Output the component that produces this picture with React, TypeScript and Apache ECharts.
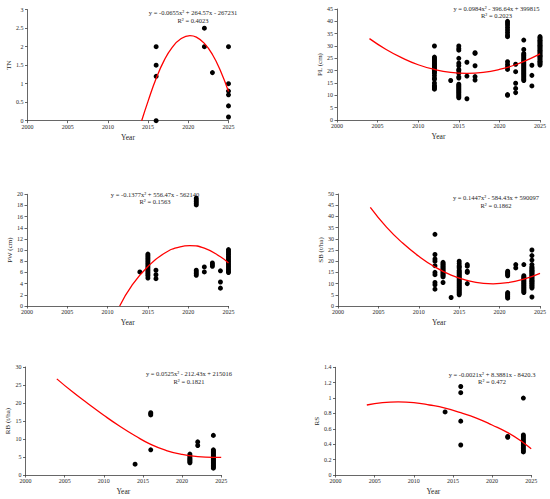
import React, { useEffect, useRef } from "react";
import * as echarts from "echarts";

// ---------- data ----------
// observations grouped by year: [year, values[]]
const tnObs: [number, number[]][] = [
  [2016, [2.0, 1.5, 1.2, 0.0]],
  [2022, [2.5, 2.0]],
  [2023, [1.3]],
  [2025, [2.0, 1.0, 0.8, 0.7, 0.4, 0.1]],
];
const tnTrendX = [2014.2, 2015, 2016, 2017, 2018, 2019, 2020.2, 2021, 2022, 2023, 2024, 2025];
const tnTrendY = [0, 0.53, 1.14, 1.63, 1.98, 2.2, 2.3, 2.26, 2.09, 1.79, 1.35, 0.79];

const plObs: [number, number[]][] = [
  [2012, [30, 25.5, 25, 24.5, 24, 23.5, 23, 22.5, 22, 21.5, 21, 20.5, 20, 19.5, 19, 18, 17, 16.5, 15, 14, 13.5, 13, 12.5]],
  [2014, [16]],
  [2015, [30, 29, 28.3, 25, 23, 22, 20.5, 20, 19, 17.5, 17, 14.5, 14, 13.5, 13, 12.5, 12, 11.5, 11, 10.5, 10, 9.5, 9]],
  [2016, [23.4, 17.8, 8.6]],
  [2017, [27.3, 27, 22, 17.6, 16.2]],
  [2021, [40, 39.3, 38.5, 37.5, 36.5, 35.5, 34.5, 33.8, 23.6, 22.5, 21.5, 20.5, 10.3, 10]],
  [2022, [22.6, 19.6, 14.9, 12.8, 11.1]],
  [2023, [32.4, 28.6, 27, 26.5, 26, 25.5, 25, 24.5, 24, 23.5, 23, 22.5, 22, 21.5, 21, 20.5, 20, 19.5, 19, 18.5, 18, 17.5, 17, 16.5, 16]],
  [2024, [22.2, 18.1, 13.8]],
  [2025, [33.8, 33.3, 32.8, 32.3, 31.8, 31.3, 30.8, 30.3, 29.8, 29.3, 28.8, 28.3, 27.8, 27.3, 26.8, 26.3, 25.8, 25.3, 24.8, 24.3, 23.8, 23.3, 22.8, 22.3]],
];
const plTrendX = [2004, 2006, 2008, 2010, 2012, 2014, 2016, 2018, 2020, 2022, 2024, 2025];
const plTrendY = [33, 28.7, 25.2, 22.4, 20.5, 19.3, 18.9, 19.3, 20.5, 22.4, 25.2, 26.8];

const pwObs: [number, number[]][] = [
  [2014, [6.1]],
  [2015, [9.3, 9.0, 8.7, 8.4, 8.1, 7.8, 7.5, 7.2, 6.9, 6.6, 6.3, 6.0, 5.7, 5.4, 5.0]],
  [2016, [6.4, 5.6, 4.9]],
  [2021, [19.3, 19.0, 18.7, 18.4, 18.1, 6.4, 6.1, 5.8, 5.5]],
  [2022, [7.0, 6.1]],
  [2023, [7.7, 7.4, 7.1]],
  [2024, [6.3, 4.3, 3.2]],
  [2025, [10.1, 9.8, 9.5, 9.2, 8.9, 8.6, 8.3, 8.0, 7.7, 7.4, 7.1, 6.8, 6.5, 6.2, 6.0]],
];
const pwTrendX = [2011.5, 2013, 2015, 2017, 2019, 2020.2, 2022, 2024, 2025];
const pwTrendY = [0, 3.66, 7.08, 9.39, 10.6, 10.8, 10.35, 8.81, 7.7];

const sbObs: [number, number[]][] = [
  [2012, [32, 23, 21, 20, 18, 15, 14, 10.5, 9.5, 7.5]],
  [2013, [19.5, 19, 18.5, 18, 17.5, 17, 16.5, 16, 15.5, 15, 14.5, 14, 13.5, 13, 10.5]],
  [2014, [3.8]],
  [2015, [20, 19, 18, 17.5, 17, 16, 15.5, 15, 14.5, 14, 13.5, 13, 12.5, 12, 11.5, 11, 10.5, 10, 9.5, 9, 8.5, 8, 7.5, 7, 6.5, 6, 5.5, 5]],
  [2016, [18.5, 17.8, 15.5, 15, 10]],
  [2021, [15.5, 15, 14.5, 14, 13.5, 6, 5.5, 5, 4.5, 4, 3.5]],
  [2022, [18.5, 17]],
  [2023, [18.5, 13.5, 13, 12.5, 12, 11.5, 11, 10.5, 10, 9.5, 9, 8.5, 8, 7.5, 7, 6.5, 6]],
  [2024, [25, 22.5, 20.5, 18.5, 17.5, 17, 16.5, 16, 15.5, 15, 14.5, 14, 13.5, 13, 12.5, 12, 11.5, 11, 10.5, 10, 9.5, 9, 8.5, 8, 4]],
];
const sbTrendX = [2004, 2006, 2008, 2010, 2012, 2014, 2016, 2018, 2019.2, 2021, 2023, 2025];
const sbTrendY = [44, 35.2, 28.1, 22.2, 17.4, 13.8, 11.4, 10.1, 9.9, 10.4, 12, 14.6];

const rbObs: [number, number[]][] = [
  [2014, [3]],
  [2016, [17.3, 17, 16.7, 7]],
  [2021, [5.8, 5.4, 5, 4.6, 4.3, 4, 3.7, 3.4]],
  [2022, [9.2, 8.2]],
  [2024, [11, 7, 6.7, 6.4, 6.1, 5.8, 5.5, 5.2, 4.9, 4.6, 4.3, 4, 3.7, 3.4, 3.1, 2.8, 2.5, 2.2, 1.9]],
];
const rbTrendX = [2004, 2006, 2008, 2010, 2012, 2014, 2016, 2018, 2020, 2022, 2024, 2025];
const rbTrendY = [26.7, 23.1, 19.8, 16.6, 13.6, 10.9, 8.5, 6.8, 5.7, 5.1, 4.9, 4.9];

const rsObs: [number, number[]][] = [
  [2014, [0.82]],
  [2016, [1.15, 1.07, 0.7, 0.39]],
  [2022, [0.5, 0.49]],
  [2024, [1.0, 0.52, 0.5, 0.48, 0.46, 0.44, 0.42, 0.4, 0.38, 0.36, 0.34, 0.32, 0.3]],
];
const rsTrendX = [2004, 2006, 2008, 2010, 2012, 2014, 2016, 2018, 2020, 2022, 2024, 2025];
const rsTrendY = [0.91, 0.94, 0.95, 0.94, 0.91, 0.87, 0.81, 0.74, 0.65, 0.55, 0.42, 0.34];

const yNames = ["TN", "PL (cm)", "PW (cm)", "SB (t/ha)", "RB (t/ha)", "RS"];
const yMaxes = [3, 45, 20, 50, 30, 1.4];
const yIntervals = [0.5, 5, 2, 5, 5, 0.2];
const equations = [
  "y = -0.0655x² + 264.57x - 267231",
  "y = 0.0984x² - 396.64x + 399815",
  "y = -0.1377x² + 556.47x - 562140",
  "y = 0.1447x² - 584.43x + 590097",
  "y = 0.0525x² - 212.43x + 215016",
  "y = -0.0021x² + 8.3881x - 8420.3",
];
const rSquared = ["R² = 0.4023", "R² = 0.2023", "R² = 0.1563", "R² = 0.1862", "R² = 0.1821", "R² = 0.472"];
const xMin = 2000;
const xMax = 2025;
const xInterval = 5;

// ---------- layout ----------
const grids = [
  { left: 27.5, top: 9.7, width: 201, height: 111 },
  { left: 337, top: 9, width: 203, height: 111 },
  { left: 27, top: 194.3, width: 201.5, height: 111.7 },
  { left: 338, top: 194, width: 202, height: 112 },
  { left: 25.5, top: 367, width: 195.7, height: 108 },
  { left: 335.5, top: 367.3, width: 195.7, height: 107.7 },
];
const eqPos = [
  { x: 193, y1: 12.7, y2: 20 },
  { x: 496.5, y1: 8.3, y2: 15.7 },
  { x: 155, y1: 194.3, y2: 201.7 },
  { x: 496, y1: 197.7, y2: 205 },
  { x: 189, y1: 373.3, y2: 381 },
  { x: 492, y1: 374.3, y2: 381.7 },
];

const FONT = '"Liberation Serif", "Times New Roman", serif';
const AXIS_COLOR = "#404040";
const TEXT_COLOR = "#262626";

const allObs = [tnObs, plObs, pwObs, sbObs, rbObs, rsObs];
const trendXs = [tnTrendX, plTrendX, pwTrendX, sbTrendX, rbTrendX, rsTrendX];
const trendYs = [tnTrendY, plTrendY, pwTrendY, sbTrendY, rbTrendY, rsTrendY];

function flatten(obs: [number, number[]][]): number[][] {
  const out: number[][] = [];
  obs.forEach(([yr, vals]) => vals.forEach((v) => out.push([yr, v])));
  return out;
}

export default function App() {
  const ref = useRef<HTMLDivElement>(null);
  useEffect(() => {
    if (!ref.current) return;
    const chart = echarts.init(ref.current, undefined, { renderer: "svg" });
    const series: any[] = [];
    const xAxis: any[] = [];
    const yAxis: any[] = [];
    const graphic: any[] = [];
    grids.forEach((g, i) => {
      xAxis.push({
        gridIndex: i,
        type: "value",
        min: xMin,
        max: xMax,
        interval: xInterval,
        name: "Year",
        nameLocation: "middle",
        nameGap: 12.5,
        nameTextStyle: { fontFamily: FONT, fontSize: 7.5, color: TEXT_COLOR },
        axisLine: { show: true, onZero: false, lineStyle: { color: AXIS_COLOR, width: 0.8 } },
        axisTick: { show: true, length: 2.5, lineStyle: { color: AXIS_COLOR, width: 0.8 } },
        axisLabel: {
          fontFamily: FONT,
          fontSize: 6,
          color: TEXT_COLOR,
          margin: 3,
          formatter: (v: number) => String(v),
        },
        splitLine: { show: false },
      });
      yAxis.push({
        gridIndex: i,
        type: "value",
        min: 0,
        max: yMaxes[i],
        interval: yIntervals[i],
        name: yNames[i],
        nameLocation: "middle",
        nameGap: 14,
        nameTextStyle: { fontFamily: FONT, fontSize: 7, color: TEXT_COLOR },
        axisLine: { show: true, onZero: false, lineStyle: { color: AXIS_COLOR, width: 0.8 } },
        axisTick: { show: true, length: 2.5, lineStyle: { color: AXIS_COLOR, width: 0.8 } },
        axisLabel: {
          fontFamily: FONT,
          fontSize: 6,
          color: TEXT_COLOR,
          margin: 4,
          formatter: (v: number) => String(Math.round(v * 100) / 100),
        },
        splitLine: { show: false },
      });
      series.push({
        type: "scatter",
        xAxisIndex: i,
        yAxisIndex: i,
        data: flatten(allObs[i]),
        symbol: "circle",
        symbolSize: 5,
        itemStyle: { color: "#000", opacity: 1 },
        z: 2,
      });
      series.push({
        type: "line",
        xAxisIndex: i,
        yAxisIndex: i,
        data: trendXs[i].map((x, k) => [x, trendYs[i][k]]),
        smooth: true,
        showSymbol: false,
        symbol: "none",
        lineStyle: { color: "#ff0000", width: 1.3 },
        z: 3,
      });
      graphic.push({
        type: "text",
        x: eqPos[i].x,
        y: eqPos[i].y1,
        style: { text: equations[i], fontFamily: FONT, fontSize: 6.5, fill: TEXT_COLOR, align: "center", verticalAlign: "middle" },
      });
      graphic.push({
        type: "text",
        x: eqPos[i].x,
        y: eqPos[i].y2,
        style: { text: rSquared[i], fontFamily: FONT, fontSize: 6.5, fill: TEXT_COLOR, align: "center", verticalAlign: "middle" },
      });
    });
    chart.setOption({
      animation: false,
      backgroundColor: "#fff",
      grid: grids.map((g) => ({ ...g, containLabel: false })),
      xAxis,
      yAxis,
      series,
      graphic,
    });
    return () => chart.dispose();
  }, []);
  return (
    <div
      ref={ref}
      style={{ position: "absolute", left: 0, top: 0, width: 550, height: 499, background: "#fff" }}
    />
  );
}
